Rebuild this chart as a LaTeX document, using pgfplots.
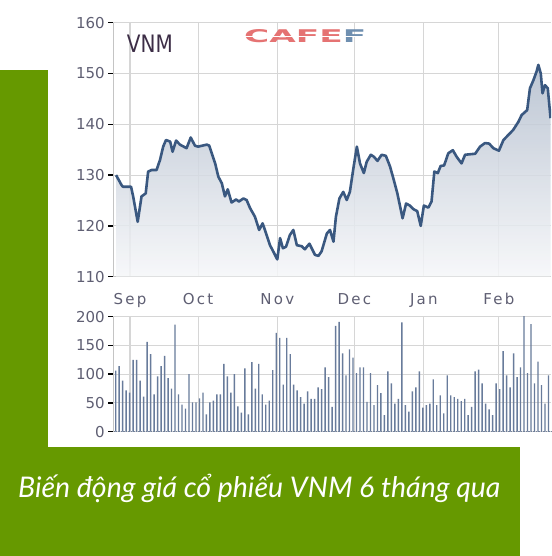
\documentclass[border=0pt]{standalone}
\usepackage{pgfplots}
\pgfplotsset{compat=1.18}
\usepackage{pgfplotstable}
\usepackage{fontspec}
\newfontfamily\chartfont{DejaVu Sans}
\newfontfamily\monthfont[LetterSpace=15]{DejaVu Sans}
\newfontfamily\capfont{Lato}

\definecolor{leaf}{RGB}{102,153,0}
\definecolor{priceline}{RGB}{58,88,128}
\definecolor{volbar}{RGB}{104,123,155}
\definecolor{gridgray}{RGB}{214,214,214}
\definecolor{axisgray}{RGB}{196,196,196}
\definecolor{ticktext}{RGB}{95,95,115}
\definecolor{vnmtext}{RGB}{60,45,70}
\definecolor{logored}{RGB}{229,115,115}
\definecolor{logoblue}{RGB}{111,143,176}
\definecolor{areatop}{RGB}{178,189,205}
\definecolor{areabot}{RGB}{246,247,249}

% closing price (thousand VND), by trading day
\pgfplotstableread{
day price
0.1 130.0
1.7 128.0
2.1 127.7
4.4 127.7
5.0 125.8
6.3 120.8
7.4 125.8
8.6 126.4
9.3 130.7
10.3 131.0
11.7 131.0
12.7 133.0
13.6 135.6
14.4 136.9
15.6 136.6
16.3 134.6
17.3 136.8
18.4 136.0
20.3 135.3
21.5 137.4
22.7 135.8
23.6 135.6
26.1 136.0
26.8 135.8
28.5 132.3
29.4 129.7
30.4 128.4
31.3 125.8
32.1 127.2
33.2 124.6
34.5 125.2
35.3 124.8
36.6 125.4
37.5 125.1
38.5 123.5
39.9 121.8
41.1 119.2
42.1 120.5
43.1 118.5
44.2 116.2
45.2 114.9
46.3 113.4
47.1 117.6
47.9 115.6
48.8 115.9
49.9 118.2
50.9 119.2
51.9 116.2
53.3 116.0
54.2 115.4
55.5 116.5
57.1 114.3
58.1 114.1
59.0 115.0
60.5 118.5
61.4 119.2
62.4 116.9
63.1 121.8
64.1 125.4
65.2 126.7
66.2 125.1
67.1 126.7
68.1 131.3
69.1 135.6
70.0 132.3
71.1 130.4
71.9 132.6
73.1 134.0
74.0 133.6
75.0 132.8
76.2 134.0
77.4 133.8
78.6 131.7
79.7 129.0
80.7 126.4
81.5 123.8
82.2 121.5
83.2 124.4
84.3 124.0
85.3 123.3
86.4 122.9
87.4 120.0
88.3 124.0
89.6 123.6
90.5 124.8
91.3 130.7
92.3 130.4
93.1 131.8
94.1 131.9
95.3 134.3
96.6 134.9
97.7 133.6
99.1 132.3
100.1 134.0
101.5 134.1
103.0 134.2
104.4 135.6
105.8 136.3
107.0 136.2
108.2 135.3
109.8 134.8
111.1 136.9
112.5 137.9
113.9 138.9
115.4 140.5
116.3 141.8
117.9 142.8
118.7 147.1
119.7 148.7
120.6 150.4
121.1 151.7
121.8 150.0
122.3 146.1
123.0 147.7
123.8 147.1
124.6 141.2
}\pricedata

% traded volume (10,000 shares), by trading day
\pgfplotstableread{
day vol
0 106
1 114
2 89
3 72
4 68
5 125
6 125
7 89
8 61
9 156
10 135
11 65
12 96
13 114
14 132
15 93
16 75
17 186
18 65
19 47
20 40
21 100
22 51
23 51
24 58
25 68
26 30
27 51
28 54
29 65
30 65
31 118
32 96
33 68
34 100
35 44
36 33
37 110
38 30
39 121
40 75
41 118
42 65
43 47
44 54
45 107
46 172
47 163
48 82
49 163
50 135
51 82
52 72
53 60
54 49
55 70
56 57
57 57
58 77
59 74
60 112
61 95
62 43
63 184
64 191
65 136
66 98
67 143
68 129
69 102
70 112
71 112
72 52
73 102
74 46
75 81
76 67
77 29
78 105
79 84
80 49
81 57
82 190
83 46
84 35
85 70
86 77
87 105
88 42
89 46
90 49
91 91
92 46
93 63
94 32
95 98
96 63
97 60
98 57
99 53
100 57
101 29
102 43
103 105
104 108
105 84
106 49
107 39
108 29
109 84
110 74
111 140
112 98
113 77
114 136
115 95
116 112
117 201
118 102
119 187
120 84
121 122
122 81
123 49
124 98
}\voldata

\pgfplotsset{
  vnmpanel/.style={
    scale only axis,
    width=437.7pt,
    xmin=-0.69, xmax=124.73,
    axis lines*=left,
    axis line style={axisgray, line width=1.3pt},
    grid=major,
    grid style={gridgray, line width=1.1pt},
    tick align=outside,
    major tick length=5pt,
    y tick style={black, line width=1.4pt},
    x tick style={draw=none},
    xtick={4.1,23.6,46.3,68.4,88.3,109.8},
    /pgf/number format/assume math mode=true,
    yticklabel style={font=\chartfont\fontsize{15}{15}\selectfont, text=ticktext},
  },
}

\begin{document}
\begin{tikzpicture}
\fill[white] (0pt,0pt) rectangle (551pt,556pt);
% green frame behind the chart
\fill[leaf] (0pt,109pt) rectangle (48pt,486pt);
\fill[leaf] (0pt,0pt) rectangle (520pt,109pt);

% price panel
\begin{axis}[vnmpanel,
  at={(113.3pt,279.3pt)}, anchor=south west,
  height=254pt,
  ymin=110, ymax=160,
  ytick={110,120,...,160},
  xticklabels={Sep,Oct,Nov,Dec,Jan,Feb},
  xticklabel style={font=\monthfont\fontsize{15}{15}\selectfont, text=ticktext, anchor=base, yshift=-23pt},
]
% translucent gradient area, so the grid still shows through it
\addplot[draw=none, top color=areatop, bottom color=areabot, fill opacity=0.85, forget plot]
  table[x=day, y=price] {\pricedata} \closedcycle;
\addplot[priceline, line width=2.6pt, line join=round] table[x=day, y=price] {\pricedata};
\end{axis}

% volume panel
\begin{axis}[vnmpanel,
  at={(113.3pt,124.3pt)}, anchor=south west,
  height=115pt,
  ymin=0, ymax=200,
  ytick={0,50,...,200},
  xticklabels={},
  x axis line style={draw={rgb,255:red,120;green,132;blue,155}, dash pattern=on 1.5pt off 1pt},
]
\addplot[ybar, bar width=1.4pt, fill=volbar, draw=none] table[x=day, y=vol] {\voldata};
\end{axis}

% ticker and site mark
\node[anchor=base west, inner sep=0, text=vnmtext] at (126.7pt,503pt)
  {\scalebox{1}[1.2]{\chartfont\fontsize{20}{20}\selectfont VNM}};
\node[anchor=south west, inner sep=0] at (244pt,513pt)
  {\resizebox{122pt}{13pt}{\chartfont\bfseries\textcolor{logored}{CAFE}\textcolor{logoblue}{F}}};
\draw[white, line width=1.2pt] (243pt,519.5pt) -- (368pt,519.5pt);

% caption
\node[anchor=base west, inner sep=0, text=white] at (18pt,58.5pt)
  {\resizebox{482pt}{!}{\capfont\itshape Biến động giá cổ phiếu VNM 6 tháng qua}};

\pgfresetboundingbox
\useasboundingbox (0pt,0pt) rectangle (551pt,556pt);
\end{tikzpicture}
\end{document}
